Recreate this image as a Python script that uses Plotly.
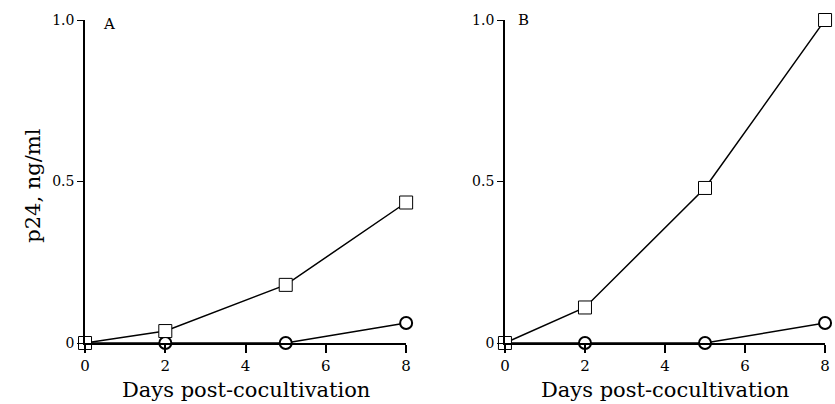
import plotly.graph_objects as go

days = [0, 2, 5, 8]
a_square = [0.0, 0.037, 0.18, 0.435]
a_circle = [0.0, 0.0, 0.0, 0.062]
b_square = [0.0, 0.11, 0.48, 1.0]
b_circle = [0.0, 0.0, 0.0, 0.062]
x_ticks = [0, 2, 4, 6, 8]
y_ticks = [0, 0.5, 1.0]
y_tick_text = ["0", "0.5", "1.0"]

FONT = "DejaVu Serif, serif"
W, H = 835, 404
T, B = 20, 61

fig = go.Figure()

def add_pair(xa, ya, sq, ci):
    fig.add_trace(go.Scatter(x=days, y=ci, xaxis=xa, yaxis=ya, mode="lines+markers",
                             line=dict(color="black", width=1.5),
                             marker=dict(symbol="circle", size=12, color="white",
                                         line=dict(color="black", width=2)),
                             cliponaxis=False, showlegend=False))
    fig.add_trace(go.Scatter(x=days, y=sq, xaxis=xa, yaxis=ya, mode="lines+markers",
                             line=dict(color="black", width=1.5),
                             marker=dict(symbol="square", size=13, color="white",
                                         line=dict(color="black", width=1)),
                             cliponaxis=False, showlegend=False))

add_pair("x", "y", a_square, a_circle)
add_pair("x2", "y2", b_square, b_circle)

xcommon = dict(range=[0, 8], tickvals=x_ticks, showgrid=False, zeroline=False,
               showline=True, linecolor="black", linewidth=1.5,
               ticks="outside", ticklen=8, tickwidth=1.5, tickcolor="black",
               tickfont=dict(family=FONT, size=15, color="black"), fixedrange=True)
ycommon = dict(range=[0, 1], tickvals=y_ticks, ticktext=y_tick_text, showgrid=False,
               zeroline=False, showline=True, linecolor="black", linewidth=1.5,
               ticks="outside", ticklen=6, tickwidth=1, tickcolor="black",
               tickfont=dict(family=FONT, size=14, color="black"), fixedrange=True)

fig.update_layout(
    width=W, height=H,
    margin=dict(l=0, r=0, t=T, b=B),
    paper_bgcolor="white", plot_bgcolor="white",
    xaxis=dict(domain=[81 / W, 406 / W], anchor="y", **xcommon),
    yaxis=dict(domain=[0, 1], anchor="x", **ycommon),
    xaxis2=dict(domain=[506 / W, 830 / W], anchor="y2", **xcommon),
    yaxis2=dict(domain=[0, 1], anchor="x2", **ycommon),
    annotations=[
        dict(text="p24, ng/ml", x=28 / W, y=0.486, xref="paper", yref="paper",
             textangle=-90, showarrow=False, xanchor="center", yanchor="middle",
             font=dict(family=FONT, size=21, color="black")),
        dict(text="Days post-cocultivation", x=244 / W, y=-0.146, xref="paper", yref="paper",
             showarrow=False, xanchor="center", yanchor="middle",
             font=dict(family=FONT, size=21, color="black")),
        dict(text="Days post-cocultivation", x=668 / W, y=-0.146, xref="paper", yref="paper",
             showarrow=False, xanchor="center", yanchor="middle",
             font=dict(family=FONT, size=21, color="black")),
        dict(text="A", x=105 / W, y=0.988, xref="paper", yref="paper",
             showarrow=False, xanchor="center", yanchor="middle",
             font=dict(family=FONT, size=15, color="black")),
        dict(text="B", x=525 / W, y=1.0, xref="paper", yref="paper",
             showarrow=False, xanchor="center", yanchor="middle",
             font=dict(family=FONT, size=15, color="black")),
    ],
)

fig.write_html("out.html")
